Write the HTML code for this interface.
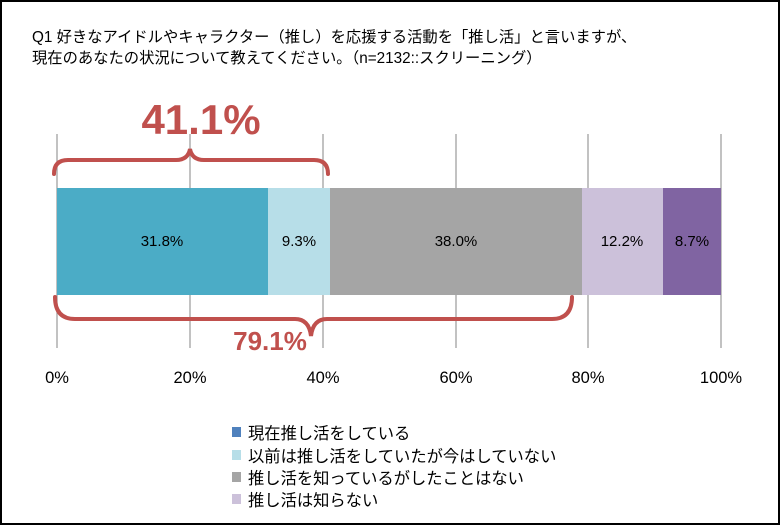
<!DOCTYPE html>
<html><head><meta charset="utf-8"><style>
body{margin:0;background:#fff}
svg{display:block}
text{font-family:"Liberation Sans","Noto Sans CJK JP",sans-serif}
</style></head><body>
<svg width="780" height="525" xmlns="http://www.w3.org/2000/svg">
<rect x="1" y="1" width="778" height="523" fill="#fff" stroke="#000" stroke-width="2"/>
<text x="32" y="42" font-size="15.3" fill="#000">Q1 好きなアイドルやキャラクター（推し）を応援する活動を「推し活」と言いますが、</text>
<text x="32" y="63" font-size="15.3" fill="#000">現在のあなたの状況について教えてください。（n=2132::スクリーニング）</text>
<g stroke="#999" stroke-width="1.2">
<line x1="57" y1="134" x2="57" y2="348"/><line x1="190" y1="134" x2="190" y2="348"/>
<line x1="323" y1="134" x2="323" y2="348"/><line x1="456" y1="134" x2="456" y2="348"/>
<line x1="588" y1="134" x2="588" y2="348"/><line x1="721" y1="134" x2="721" y2="348"/>
</g>
<rect x="57" y="188" width="211" height="107" fill="#4bacc6"/>
<rect x="268" y="188" width="62" height="107" fill="#b7dee8"/>
<rect x="330" y="188" width="252" height="107" fill="#a5a5a5"/>
<rect x="582" y="188" width="81" height="107" fill="#ccc1da"/>
<rect x="663" y="188" width="58" height="107" fill="#8064a2"/>
<g font-size="15" fill="#000" text-anchor="middle">
<text x="162" y="246">31.8%</text><text x="299" y="246">9.3%</text>
<text x="456" y="246">38.0%</text><text x="622" y="246">12.2%</text><text x="692" y="246">8.7%</text>
</g>
<g fill="none" stroke="#c0504d" stroke-width="4" stroke-linecap="round">
<path d="M54 174 Q54 160 68 160 L176 160 Q188 160 190 149 Q192 160 204 160 L314 160 Q328 160 328 174"/>
<path d="M55 297 Q55 319 75 319 L295 319 Q309 319 311 336 Q313 319 327 319 L552 319 Q572 319 572 297"/>
</g>
<text x="201" y="134" font-size="42" font-weight="bold" fill="#c0504d" text-anchor="middle">41.1%</text>
<text x="270" y="350" font-size="26" font-weight="bold" fill="#c0504d" text-anchor="middle">79.1%</text>
<g font-size="16.5" fill="#000" text-anchor="middle">
<text x="57" y="383">0%</text><text x="190" y="383">20%</text><text x="323" y="383">40%</text>
<text x="456" y="383">60%</text><text x="588" y="383">80%</text><text x="721" y="383">100%</text>
</g>
<rect x="232" y="427" width="9" height="10" fill="#4f81bd"/>
<rect x="232" y="450" width="9" height="10" fill="#b7dee8"/>
<rect x="232" y="472" width="9" height="10" fill="#a5a5a5"/>
<rect x="232" y="494" width="9" height="10" fill="#ccc1da"/>
<g font-size="16.3" fill="#000">
<text x="248" y="439">現在推し活をしている</text>
<text x="248" y="462">以前は推し活をしていたが今はしていない</text>
<text x="248" y="484">推し活を知っているがしたことはない</text>
<text x="248" y="506">推し活は知らない</text>
</g>
</svg>
</body></html>
